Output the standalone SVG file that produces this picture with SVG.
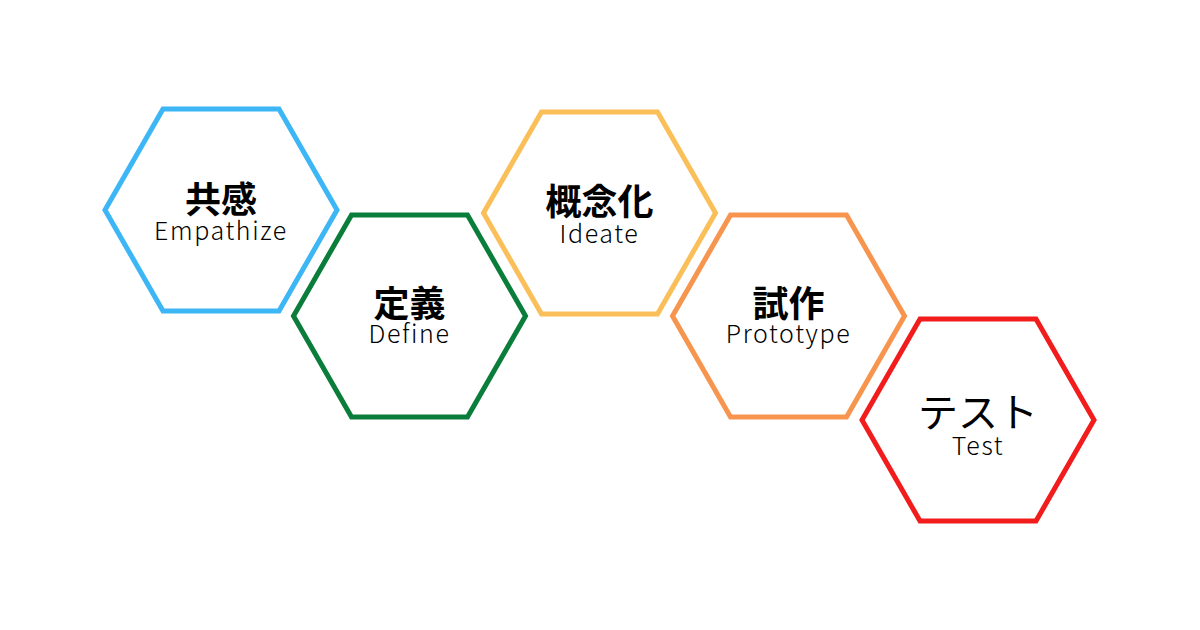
<svg xmlns="http://www.w3.org/2000/svg" width="1200" height="630" viewBox="0 0 1200 630">
<style>
.hex{fill:none;stroke-width:5;stroke-linejoin:miter}
.jp{font-family:"Noto Sans CJK JP","Noto Sans",sans-serif;font-size:36px;font-weight:700;fill:#000;text-anchor:middle}
.en{font-family:"Noto Sans CJK JP","Noto Sans",sans-serif;font-size:25px;font-weight:300;fill:#000;text-anchor:middle;letter-spacing:1.6px}
</style>
<defs>
<polygon id="h" points="-116,0 -58,-101 58,-101 116,0 58,101 -58,101"/>
</defs>
<rect width="1200" height="630" fill="#fff"/>
<g id="empathize">
<use href="#h" x="221" y="210" class="hex" stroke="#3cb6f5"/>
<text x="221" y="213" class="jp">共感</text>
<text x="221" y="240" class="en">Empathize</text>
</g>
<g id="define">
<use href="#h" x="409.5" y="316" class="hex" stroke="#0a7d3a"/>
<text x="409.5" y="317" class="jp">定義</text>
<text x="409.5" y="343" class="en">Define</text>
</g>
<g id="ideate">
<use href="#h" x="599.5" y="213" class="hex" stroke="#fbbf5a"/>
<text x="599.5" y="215" class="jp">概念化</text>
<text x="599.5" y="243" class="en">Ideate</text>
</g>
<g id="prototype">
<use href="#h" x="788.5" y="316" class="hex" stroke="#f7954f"/>
<text x="788.5" y="317" class="jp">試作</text>
<text x="788.5" y="343" class="en">Prototype</text>
</g>
<g id="test">
<use href="#h" x="978" y="420" class="hex" stroke="#f21c1c"/>
<text x="978" y="427" class="jp" style="font-weight:400;font-size:40px">テスト</text>
<text x="978" y="455" class="en">Test</text>
</g>
<g id="connectors"></g>
</svg>
